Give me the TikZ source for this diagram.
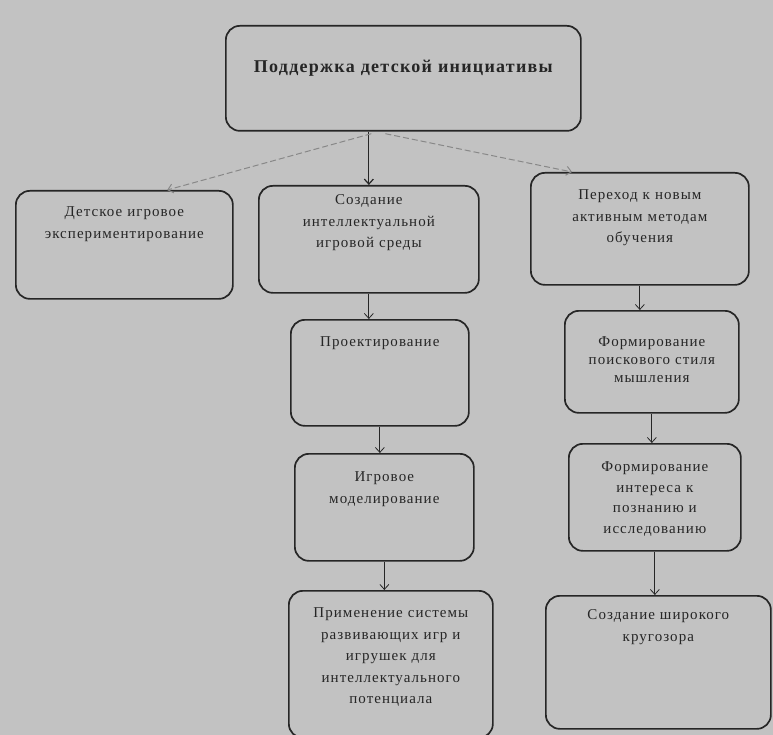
\documentclass[tikz,border=0pt]{standalone}
\usepackage{fontspec}
\setmainfont{Liberation Serif}[LetterSpace=7]
\usetikzlibrary{positioning,arrows.meta}
\definecolor{paper}{RGB}{194,194,194}
\definecolor{ink}{RGB}{38,38,38}

\begin{document}
\begin{tikzpicture}
        [x=1pt, y=-1pt,
        font=\fontsize{15}{21.5}\selectfont, text=ink,
        box/.style={draw=ink, rounded corners=14pt, line width=1.7pt,
        align=center, inner xsep=2pt, inner ysep=0pt, anchor=north west},
        flow/.style={draw=ink, line width=0.8pt, -{Straight Barb[length=5pt, width=9pt]}},
        side/.style={flow, draw=ink!55, line width=1pt, dash pattern=on 6pt off 3pt}]
        \fill[paper] (0,0) rectangle (773,735);
        \useasboundingbox (0,0) rectangle (773,735);
        \clip (0,0) rectangle (773,735);
        % top
        \node[box, text width=351pt, text height=47pt, text depth=58pt,
            font=\fontsize{18}{20}\selectfont\bfseries] (support) at (225,25)
            {Поддержка детской инициативы};
        % first row
        \node[box, text width=213pt, text height=26pt, text depth=82pt] (play) at (15,190)
            {Детское игровое\\экспериментирование};
        \node[box, text width=216pt, text height=19pt, text depth=88pt] (env) at (258,185)
            {Создание\\интеллектуальной\\игровой среды};
        \node[box, text width=214pt, text height=27pt, text depth=85pt] (methods) at (530,172)
            {Переход к новым\\активным методам\\обучения};
        % middle column
        \node[box, text width=174pt, text height=27pt, text depth=79pt] (design) at (290,319)
            {Проектирование};
        \node[box, text width=175pt, text height=28pt, text depth=79pt] (model) at (294,453)
            {Игровое\\моделирование};
        \node[box, text width=200pt, text height=27pt, text depth=120pt] (toys) at (288,590)
            {Применение системы\\развивающих игр и\\игрушек для\\интеллектуального\\потенциала};
        % right column
        \node[box, text width=170pt, text height=36pt, text depth=66pt,
            font=\fontsize{15}{18}\selectfont] (style) at (564,310)
            {Формирование\\поискового стиля\\мышления};
        \node[box, text width=168pt, text height=28pt, text depth=79pt,
            font=\fontsize{15}{20.5}\selectfont] (interest) at (568,443)
            {Формирование\\интереса к\\познанию и\\исследованию};
        \node[box, text width=221pt, text height=24pt, text depth=109pt] (outlook) at (545,595)
            {Создание широкого\\кругозора};
        % arrows
        \draw[flow, line width=1.2pt] (support.south -| env.north) -- (env.north);
        \draw[side] (support.south) ++(-32,2) -- (play.52);
        \draw[side] (support.south) ++(-18,2) -- (methods.140);
        \draw[flow] (env.south) -- (env.south |- design.north);
        \draw[flow] (design.south) -- (design.south |- model.north);
        \draw[flow] (model.south) -- (model.south |- toys.north);
        \draw[flow] (methods.south) -- (methods.south |- style.north);
        \draw[flow] (style.south) -- (style.south |- interest.north);
        \draw[flow] (interest.south) -- (interest.south |- outlook.north);
\end{tikzpicture}
\end{document}
